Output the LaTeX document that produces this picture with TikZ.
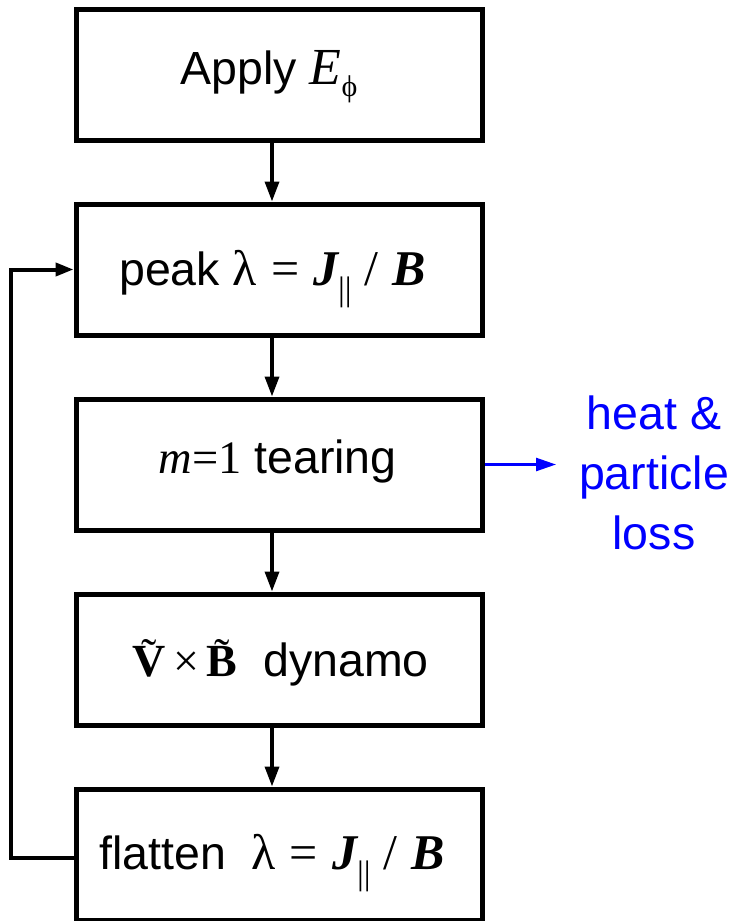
\documentclass[tikz,border=0pt]{standalone}
\usepackage{fontspec}
\setmainfont{Liberation Sans}
\newfontfamily\mathserif{Liberation Serif}
\usetikzlibrary{arrows.meta}
\definecolor{lossblue}{RGB}{0,0,255}

% serif pieces of the formulas
\newcommand\vit[1]{{\mathserif\itshape #1}}
\newcommand\vbi[1]{{\mathserif\bfseries\itshape #1}}
\newcommand\vup[1]{{\mathserif #1}}
\newcommand\vbf[1]{{\mathserif\bfseries #1}}
\newcommand\formulasize{\fontsize{50}{50}\selectfont}
% lowered small index: #1 text, #2 size, #3 drop
\newcommand\lowidx[3]{\raisebox{-#3}{\fontsize{#2}{#2}\selectfont\mathserif #1}}
% tilde placed over a capital
\newcommand\tildeacc[1]{\ooalign{#1\cr\hidewidth\raisebox{0.12em}{\fontseries{m}\selectfont\char"02DC}\hidewidth\cr}}
% parallel index under J
\newcommand\parsub{\lowidx{||}{34}{15pt}}

\begin{document}
\begin{tikzpicture}[x=1pt,y=-1pt,
  stage/.style={draw, line width=5pt, minimum width=406pt, minimum height=131pt, inner sep=0pt},
  caption/.style={anchor=base, inner sep=0pt, font=\fontsize{46.5}{46.5}\selectfont},
  flow/.style={line width=3.5pt, -{Triangle[length=20pt,width=14pt]}},
  back/.style={line width=4pt, -{Triangle[length=18pt,width=13pt]}},
  leak/.style={lossblue, line width=2.5pt, -{Triangle[length=20pt,width=13pt]}},
]
\useasboundingbox (0,0) rectangle (736,921);

% the five stages
\node[stage] (b1) at (279,74.5) {};
\node[stage] (b2) at (279,269.5) {};
\node[stage] (b3) at (279,464.5) {};
\node[stage] (b4) at (279,659.5) {};
\node[stage] (b5) at (279,854.5) {};

% stage texts
\node[caption] (t1) at (269,84) {Apply {\fontsize{52}{52}\selectfont\vit{E}}\lowidx{ϕ}{30}{12pt}};
\node[caption] (t2) at (272.5,285) {peak {\formulasize\vup{λ} \vup{=} \vbi{J}}\parsub{} {\formulasize\vup{/} \vbi{B}}};
\node[caption] (t3) at (277.5,473) {\vit{m}\vup{=1} tearing};
\node[caption] (t4) at (280.5,676) {{\fontsize{46}{46}\selectfont\vbf{\tildeacc{V}}\,\vup{×}\,\vbf{\tildeacc{B}}}\ \ dynamo};
\node[caption] (t5) at (272,869) {flatten \ {\formulasize\vup{λ} \vup{=} \vbi{J}}\parsub{} {\formulasize\vup{/} \vbi{B}}};

% downward flow
\draw[flow] ([xshift=-7pt]b1.south) -- ([xshift=-7pt]b2.north);
\draw[flow] ([xshift=-7pt]b2.south) -- ([xshift=-7pt]b3.north);
\draw[flow] ([xshift=-7pt]b3.south) -- ([xshift=-7pt]b4.north);
\draw[flow] ([xshift=-7pt]b4.south) -- ([xshift=-7pt]b5.north);

% feedback from flatten back to peak
\coordinate (turnlow) at (11,857.5);
\coordinate (turnhigh) at (11,269.5);
\draw[back] ([yshift=-3pt]b5.west) -- (turnlow) -- (turnhigh) -- (b2.west);

% losses
\node[inner sep=0pt, anchor=north, align=center, text=lossblue,
      font=\fontsize{46.5}{60}\selectfont] (loss) at (654,396) {heat \&\\particle\\loss};
\coordinate (lossend) at (556,464.5);
\draw[leak] (b3.east) -- (lossend);
\end{tikzpicture}
\end{document}
